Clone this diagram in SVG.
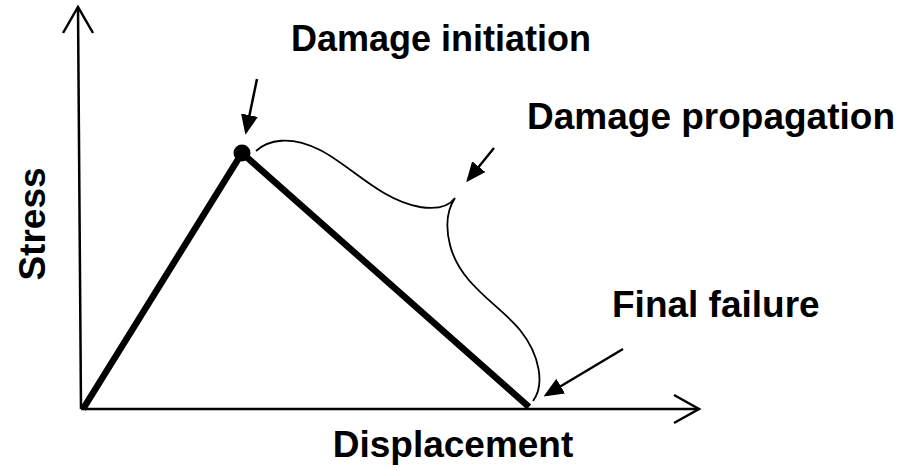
<svg xmlns="http://www.w3.org/2000/svg" width="910" height="471" viewBox="0 0 910 471">
<style>
.lbl{font-family:"Liberation Sans",Arial,sans-serif;font-weight:bold;font-size:36px;fill:#000}
.axis{stroke:#000;stroke-width:2.5;fill:none}
.arr{stroke:#000;stroke-width:2.5;fill:none}
.curve{stroke:#000;stroke-width:1.8;fill:none}
</style>
<defs>
<marker id="ah" markerWidth="8" markerHeight="8" refX="6" refY="3" orient="auto" markerUnits="strokeWidth" viewBox="0 0 7 6">
<path d="M0,0 L7,3 L0,6 Z" fill="#000"/>
</marker>
</defs>
<rect width="910" height="471" fill="#fff"/>
<g id="axes">
<path class="axis" d="M81,409 L78,8"/>
<path class="axis" d="M63,33 L78,7 L93,33"/>
<path class="axis" d="M81,409 L698,409"/>
<path class="axis" d="M674,395 L699,409 L674,423"/>
</g>
<g id="curve">
<path d="M83,409 L242,153 L529,407" stroke="#000" stroke-width="6.5" fill="none" stroke-linejoin="miter"/>
<circle cx="242" cy="153" r="8.5" fill="#000"/>
</g>
<g id="brace">
<path class="curve" d="M256,151 C268,140 290,135 320,150 C350,165 380,200 420,207 C440,210 450,205 455,198 C447,210 445,225 450,245 C460,285 500,305 520,330 C540,355 545,385 533,401"/>
</g>
<g id="connectors">
<path class="arr" d="M257,79 L246,132" marker-end="url(#ah)"/>
<path class="arr" d="M494,148 L468,180" marker-end="url(#ah)"/>
<path class="arr" d="M623,349 L546,395" marker-end="url(#ah)"/>
</g>
<g id="label-initiation"><text class="lbl" x="291" y="51">Damage initiation</text></g>
<g id="label-propagation"><text class="lbl" x="527" y="129" style="font-size:37px">Damage propagation</text></g>
<g id="label-failure"><text class="lbl" x="612" y="317" style="font-size:37px">Final failure</text></g>
<g id="label-x"><text class="lbl" x="453" y="457" text-anchor="middle" style="font-size:37px">Displacement</text></g>
<g id="label-y"><text class="lbl" transform="translate(45,224) rotate(-90)" text-anchor="middle" style="font-size:37px">Stress</text></g>
</svg>
